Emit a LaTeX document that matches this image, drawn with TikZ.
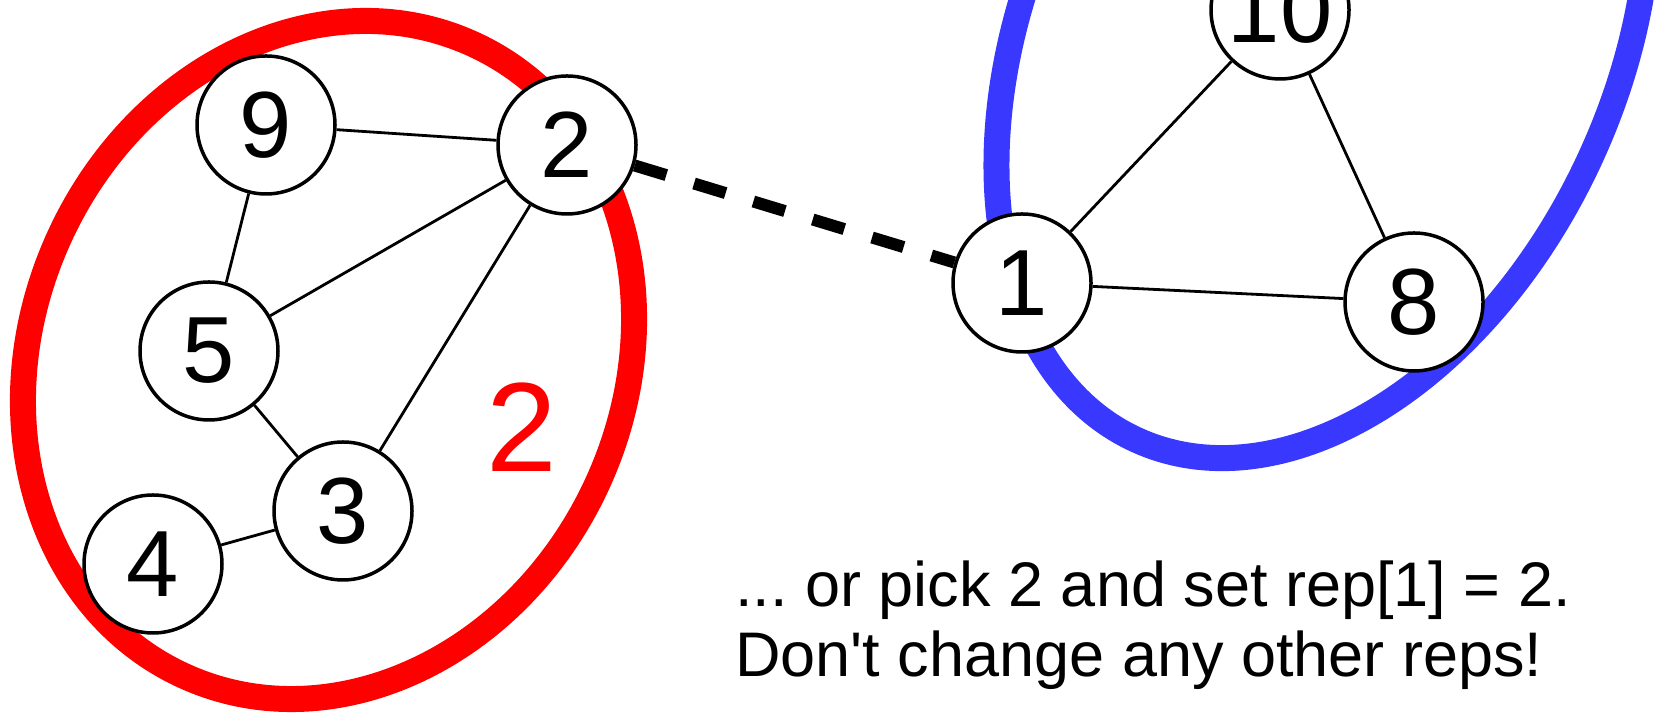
\documentclass[tikz,border=0pt]{standalone}
\usepackage{fontspec}
\setmainfont{Liberation Sans}
\frenchspacing
\definecolor{setred}{HTML}{FF0000}
\definecolor{setblue}{HTML}{3838FF}

\tikzset{
  vertex/.style={circle, draw=black, line width=1.75pt, fill=white, minimum size=69pt,
    inner sep=0pt, font=\fontsize{47}{50}\selectfont},
  edge/.style={line width=1.4pt},
  ring/.style={line width=13pt}
}

\begin{document}
\begin{tikzpicture}[x=0.5pt, y=0.5pt]
  \useasboundingbox (0,0) rectangle (1657,715);
  \clip (0,0) rectangle (1657,715);

  % Sets drawn as thick rings
  \draw[ring, setred, shift={(328.5,355)}, rotate=65.3] (0,0) ellipse [x radius=347.4, y radius=295.9];
  \draw[ring, setblue, shift={(1322.7,680)}, rotate=65.2] (0,0) ellipse [x radius=445.7, y radius=294.5];

  % Set label
  \node[text=setred, font=\fontsize{63.5}{70}\selectfont] (lbl) at (522,288) {2};

  % Left component
  \node[vertex] (n9) at (266,590) {9};
  \node[vertex] (n2) at (567,570) {2};
  \node[vertex] (n5) at (209,364) {5};
  \node[vertex] (n3) at (343,204) {3};
  \node[vertex] (n4) at (153,151) {4};

  % Right component
  \node[vertex] (n10) at (1280,705) {10};
  \node[vertex] (n1) at (1022,432) {1};
  \node[vertex] (n8) at (1414,413) {8};

  % Edges
  \draw[edge] (n9) -- (n2);
  \draw[edge] (n9) -- (n5);
  \draw[edge] (n5) -- (n2);
  \draw[edge] (n5) -- (n3);
  \draw[edge] (n2) -- (n3);
  \draw[edge] (n3) -- (n4);
  \draw[edge] (n10) -- (n1);
  \draw[edge] (n10) -- (n8);
  \draw[edge] (n1) -- (n8);

  % Union link
  \draw[line width=6pt, dash pattern=on 16.5pt off 14.5pt] (n2) -- (n1);

  % Caption (base = last line)
  \node[anchor=base west, align=left, inner sep=0pt, font=\fontsize{31.5}{35}\selectfont] (note)
    at (735,38.3) {... or pick 2 and set rep[1] = 2.\\Don\textquotesingle t change any other reps!};

\end{tikzpicture}
\end{document}
